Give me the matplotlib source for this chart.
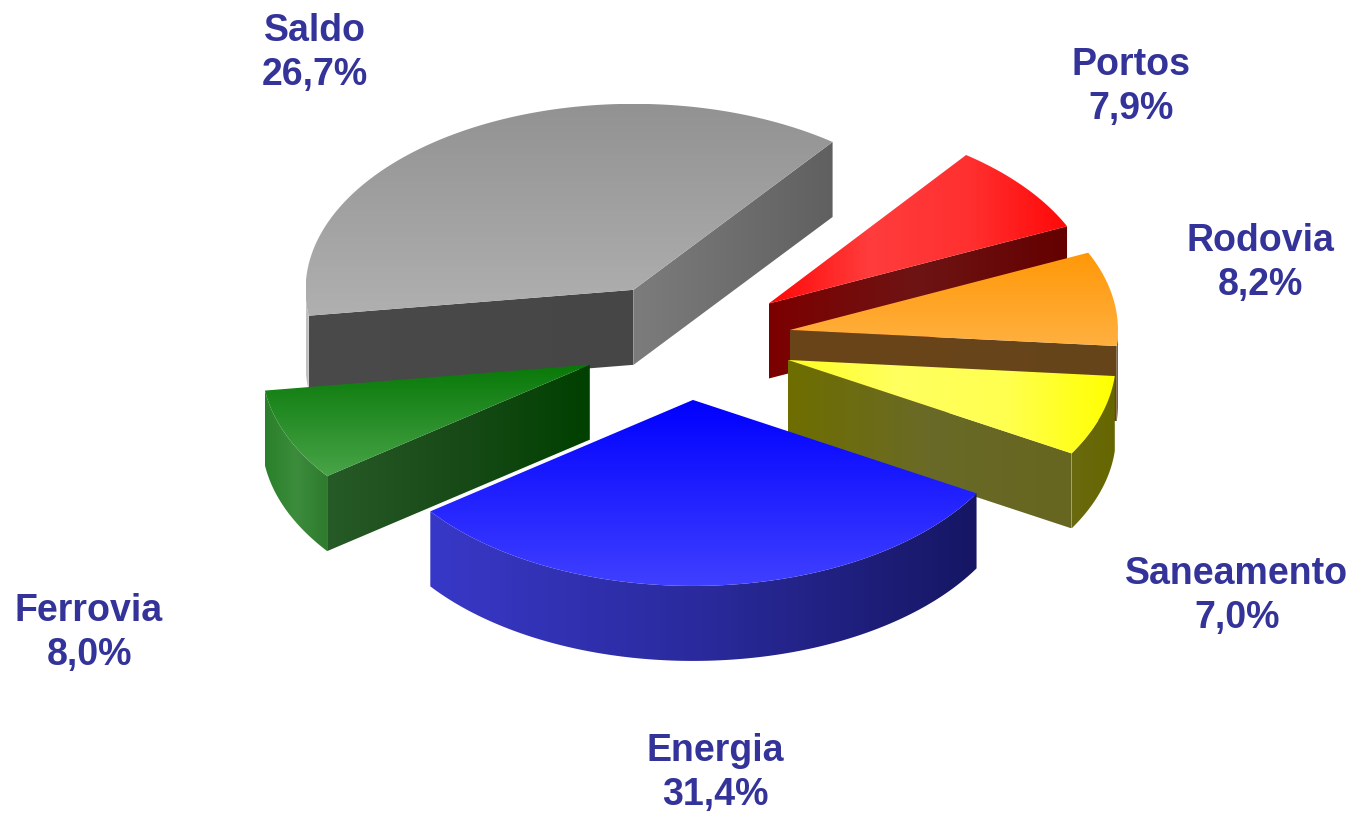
"""Exploded 3D-look pie of investment shares, drawn with gradient-filled polygons."""
import matplotlib
matplotlib.use("Agg")
import matplotlib.pyplot as plt
from matplotlib.colors import LinearSegmentedColormap
from matplotlib.patches import Polygon
import numpy as np

# drawn clockwise from START_ANGLE; the Saldo slice is drawn larger than its label, as in the source
NAMES = ["Portos", "Rodovia", "Saneamento", "Energia", "Ferrovia", "Saldo"]
SHARES = [7.9, 8.2, 7.0, 31.4, 8.0, 37.6]
PCT_LABELS = ["7,9%", "8,2%", "7,0%", "31,4%", "8,0%", "26,7%"]

W, H = 1352, 815
CX, CY = 692, 342
RX, RY = 328, 186
DEPTH = 75
START_ANGLE = 37
# explode fraction along x and y of each slice's middle direction
EXPLODE = {
    "Portos": (0.3, 0.33), "Rodovia": (0.303, 0.38), "Saneamento": (0.307, 0.32),
    "Energia": (0.05, 0.312), "Ferrovia": (0.337, 0.32), "Saldo": (0.353, 0.325),
}
DRAW_ORDER = ["Saldo", "Portos", "Rodovia", "Ferrovia", "Saneamento", "Energia"]
LABEL_POS = {
    "Portos": (1131, 87), "Rodovia": (1260, 263), "Saneamento": (1237, 596),
    "Energia": (715, 773), "Ferrovia": (89, 633), "Saldo": (315, 53),
}
TEXT = "#333399"

# top gradient (direction, colours), wall at first edge, wall at last edge, outer wall
STYLES = {
    "Saldo": (("v", ["#929292", "#b0b0b0"]), ["#4a4a4a", "#464646"], ["#7c7c7c", "#606060"], ["#c4c4c4", "#b4b4b4"]),
    "Portos": (("h", ["#ff0808", "#ff3c3c", "#ff3030", "#ff0808"]), ["#700000", "#700000"], ["#7c0000", "#6e1414", "#640000"], ["#600000", "#500000"]),
    "Rodovia": (("v", ["#ff9808", "#ffb040"]), ["#6a4018", "#6a4018"], ["#6a4418", "#66441a"], ["#7a5a28", "#6a4a1a"]),
    "Saneamento": (("h", ["#ffff20", "#ffff60", "#ffff50", "#ffff00"]), ["#666610", "#666610"], ["#6e6e00", "#6a6a28", "#666620"], ["#6a6a10", "#666600"]),
    "Energia": (("v", ["#0000ff", "#4040ff"]), ["#2020a0", "#2020a0"], ["#2020a0", "#2020a0"], ["#3838c8", "#2a2a9c", "#161664"]),
    "Ferrovia": (("v", ["#087808", "#48a448"]), ["#265a26", "#184a18", "#004000"], ["#1c501c", "#004000"], ["#2a802a", "#3c8c3c", "#2e7a2e"]),
}


def ellipse_point(angle, apex):
    rad = np.radians(angle)
    return apex[0] + RX * np.sin(rad), apex[1] - RY * np.cos(rad)


def fill_gradient(ax, pts, colors, direction="h"):
    pts = np.asarray(pts)
    xmin, ymin = pts.min(axis=0)
    xmax, ymax = pts.max(axis=0)
    ramp = np.linspace(0, 1, 256)
    grad = ramp[None, :] if direction == "h" else ramp[:, None]
    cmap = LinearSegmentedColormap.from_list("g", colors)
    im = ax.imshow(grad, cmap=cmap, extent=(xmin, xmax, ymax, ymin), aspect="auto",
                   interpolation="bilinear", vmin=0, vmax=1, zorder=ax.zcount)
    im.set_clip_path(Polygon(pts, closed=True, transform=ax.transData))
    ax.zcount += 1


def extrude(edge):
    edge = np.asarray(edge)
    return np.vstack([edge, edge[::-1] + [0, DEPTH]])


def faces_viewer(apex, end, inner):
    # a cut wall shows only when the slice top lies above its edge on screen
    line_y = apex[1] + (end[1] - apex[1]) * (inner[0] - apex[0]) / (end[0] - apex[0])
    return inner[1] < line_y


def draw_slice(ax, name, t0, t1):
    mid = (t0 + t1) / 2
    ex, ey = EXPLODE[name]
    rad = np.radians(mid)
    apex = (CX + ex * RX * np.sin(rad), CY - ey * RY * np.cos(rad))
    top_style, wall0, wall1, arc_wall = STYLES[name]

    angles = np.linspace(t0, t1, 120)
    arc = np.array([ellipse_point(a, apex) for a in angles])
    inner = (np.array(apex) + np.array(ellipse_point(mid, apex))) / 2

    if faces_viewer(apex, arc[0], inner):
        fill_gradient(ax, extrude([apex, arc[0]]), wall0)
    if faces_viewer(apex, arc[-1], inner):
        fill_gradient(ax, extrude([apex, arc[-1]]), wall1)

    # only the part of the rim facing the viewer gets a wall
    front = angles[(angles >= 90) & (angles <= 270)]
    if len(front) > 1:
        edge = np.array([ellipse_point(a, apex) for a in front])
        fill_gradient(ax, extrude(edge), arc_wall)

    fill_gradient(ax, np.vstack([[apex], arc]), top_style[1], top_style[0])


fig = plt.figure(figsize=(W / 100, H / 100), dpi=100, facecolor="white")
ax = fig.add_axes([0, 0, 1, 1])
ax.zcount = 1

edges = START_ANGLE + np.cumsum([0] + SHARES) * 3.6
spans = {n: (edges[i], edges[i + 1]) for i, n in enumerate(NAMES)}
for name in DRAW_ORDER:
    draw_slice(ax, name, *spans[name])

ax.set_xlim(0, W)
ax.set_ylim(H, 0)
ax.axis("off")

for name, pct in zip(NAMES, PCT_LABELS):
    x, y = LABEL_POS[name]
    ax.text(x, y, f"{name}\n{pct}", ha="center", va="center", color=TEXT, fontsize=27,
            fontweight="bold", family="Liberation Sans", linespacing=1.28, zorder=100)

fig.savefig("out.png", dpi=100)
